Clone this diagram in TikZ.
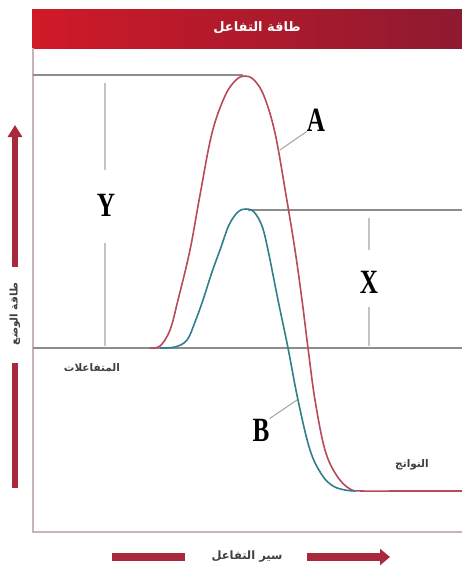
\documentclass[tikz,border=0pt]{standalone}
\usepackage{fontspec}
\setmainfont{Liberation Serif}
\newfontfamily\arabicfont[Script=Arabic]{DejaVu Sans}
\TeXXeTstate=1
\usetikzlibrary{arrows.meta}
\definecolor{titleL}{HTML}{D01A28}
\definecolor{titleR}{HTML}{8E1A30}
\definecolor{barred}{HTML}{A8283C}
\definecolor{curveA}{HTML}{B84A5A}
\definecolor{curveB}{HTML}{2F7F8C}
\definecolor{guidec}{HTML}{8C8C8C}
\definecolor{vlinec}{HTML}{C4C4C4}
\definecolor{framec}{HTML}{C9B3BA}
\tikzset{
  guide/.style={draw=guidec, line width=1.6},
  vline/.style={draw=vlinec, line width=2},
  letter/.style={font=\fontsize{34}{34}\bfseries\selectfont, inner sep=0},
  ar/.style={font=\arabicfont\bfseries\fontsize{10.5}{11}\selectfont, text=black!75, inner sep=1},
  pointer/.style={draw=guidec!80, line width=1},
  bar/.style={draw=barred, line width=8},
}
\newcommand{\cond}[1]{\scalebox{0.74}[1]{#1}}
\begin{document}
\begin{tikzpicture}[x=1pt,y=-1pt]
\useasboundingbox (0,0) rectangle (462,573);
\fill[white] (0,0) rectangle (462,573);
% title bar
\shade[left color=titleL,right color=titleR] (32,9) rectangle (462,48);
\node[text=white,font=\arabicfont\bfseries\fontsize{13}{13}\selectfont] (title) at (257,28) {\beginR طاقة التفاعل\endR};
% frame
\draw[framec, line width=1.5] (33,48) -- (33,532) -- (462,532);
% guide lines
\draw[guide] (33,75) -- (243,75);
\draw[guide] (33,348) -- (462,348);
\draw[guide] (248,210) -- (462,210);
% Y dimension
\node[letter] (Y) at (106,205) {\cond{Y}};
\coordinate (y1) at (105,83);
\coordinate (y2) at (105,170);
\coordinate (y3) at (105,243);
\coordinate (y4) at (105,346);
\draw[vline] (y1) -- (y2);
\draw[vline] (y3) -- (y4);
% X dimension
\node[letter] (X) at (369,282) {\cond{X}};
\coordinate (x1) at (369,218);
\coordinate (x2) at (369,250);
\coordinate (x3) at (369,307);
\coordinate (x4) at (369,346);
\draw[vline] (x1) -- (x2);
\draw[vline] (x3) -- (x4);
% curve A
\draw[curveA, line width=1.6] plot[smooth, tension=0.6] coordinates {
 (150,348) (160,346) (170,330) (178,300) (190,250) (200,195) (212,133) (225,96)
 (236,80) (245,76) (254,80) (264,96) (275,133) (286,195) (295,250) (302,300)
 (308,348) (315,400) (325,450) (337,476) (350,489) (362,491) (400,491) (462,491)};
% curve B
\draw[curveB, line width=1.6] plot[smooth, tension=0.6] coordinates {
 (160,348) (175,347) (187,340) (195,322) (203,300) (212,272) (220,250) (229,225)
 (238,212) (246,209) (254,212) (262,226) (268,250) (278,300) (288,348) (298,400)
 (310,450) (322,475) (333,486) (345,490) (355,491)};
% labels A, B
\node[letter] (A) at (316,120) {\cond{A}};
\coordinate (pa) at (280,150);
\draw[pointer] (pa) -- (A.south west);
\node[letter] (B) at (261,430) {\cond{B}};
\coordinate (pb) at (297,400);
\draw[pointer] (pb) -- (B.north east);
% texts
\node[ar] (react) at (92,368) {\beginR المتفاعلات\endR};
\node[ar] (prod) at (412,465) {\beginR النواتج\endR};
% left axis arrow
\node[ar, rotate=90] (energy) at (15,314) {\beginR طاقة الوضع\endR};
\coordinate (la1) at (15,267);
\coordinate (la2) at (15,125);
\coordinate (la3) at (15,363);
\coordinate (la4) at (15,488);
\draw[draw=barred, line width=6, -{Triangle[length=12,width=14]}] (la1) -- (la2);
\draw[draw=barred, line width=6] (la3) -- (la4);
% bottom axis arrow
\node[ar, font=\arabicfont\bfseries\fontsize{11.5}{12}\selectfont] (progress) at (247,557) {\beginR سير التفاعل\endR};
\coordinate (ba1) at (112,557);
\coordinate (ba2) at (185,557);
\coordinate (ba3) at (307,557);
\coordinate (ba4) at (390,557);
\draw[bar] (ba1) -- (ba2);
\draw[bar, -{Triangle[length=10,width=16]}] (ba3) -- (ba4);
\end{tikzpicture}
\end{document}
